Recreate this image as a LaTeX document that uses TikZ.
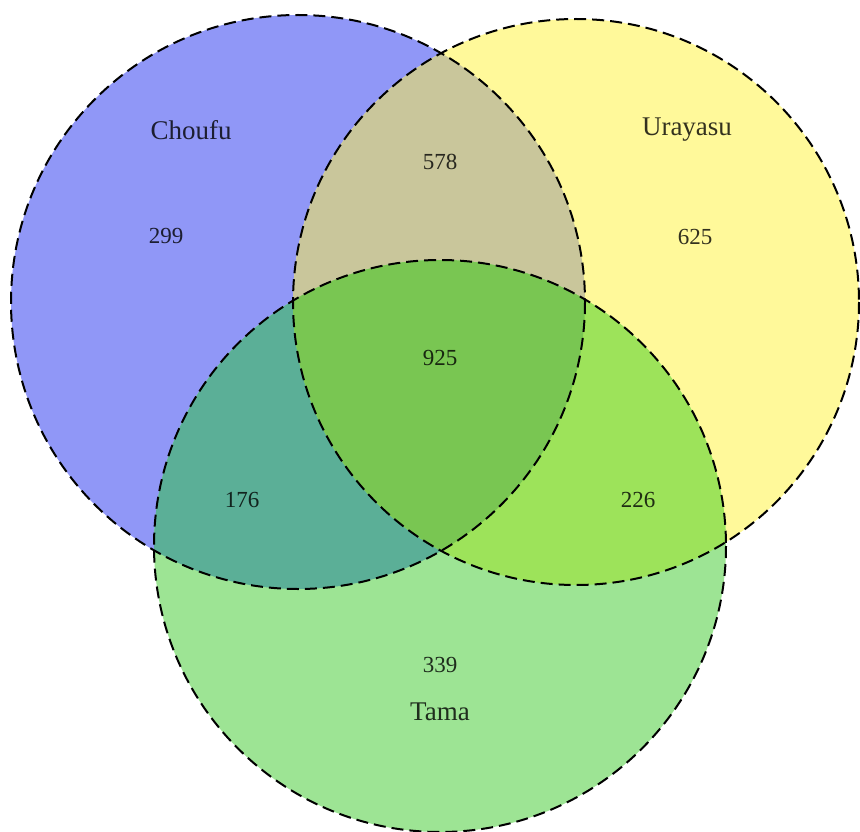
\documentclass[tikz,border=0pt]{standalone}
\usepackage{fontspec}
\setmainfont{Liberation Serif}
\definecolor{cA}{HTML}{9097F7}
\definecolor{cB}{HTML}{FFF99A}
\definecolor{cC}{HTML}{9DE494}
\definecolor{cAB}{HTML}{C9C69B}
\definecolor{cAC}{HTML}{5BAF97}
\definecolor{cBC}{HTML}{9DE35A}
\definecolor{cABC}{HTML}{79C652}
\begin{document}
\begin{tikzpicture}[x=1pt,y=-1pt,
  outline/.style={draw=black,line width=2pt,dash pattern=on 12pt off 6pt},
  lbl/.style={font=\fontsize{27}{27}\selectfont,text=black,text opacity=0.8},
  num/.style={font=\fontsize{23}{23}\selectfont,text=black,text opacity=0.8}]
\useasboundingbox (0,0) rectangle (860,832);
\def\cA{(298,302) circle (287)}
\def\cB{(576,302) circle (283)}
\def\cC{(440,546) circle (286)}
\fill[cA] \cA;
\fill[cB] \cB;
\fill[cC] \cC;
\begin{scope}\clip \cA; \fill[cAB] \cB; \end{scope}
\begin{scope}\clip \cA; \fill[cAC] \cC; \end{scope}
\begin{scope}\clip \cB; \fill[cBC] \cC; \end{scope}
\begin{scope}\clip \cA; \clip \cB; \fill[cABC] \cC; \end{scope}
\draw[outline] \cA;
\draw[outline] \cB;
\draw[outline] \cC;
\node[lbl] (choufu) at (191,130) {Choufu};
\node[lbl] (urayasu) at (687,130) {Urayasu};
\node[lbl] (tama) at (440,712) {Tama};
\node[num] (n299) at (166,236) {299};
\node[num] (n578) at (440,162) {578};
\node[num] (n625) at (695,237) {625};
\node[num] (n925) at (440,358) {925};
\node[num] (n176) at (242,500) {176};
\node[num] (n226) at (638,500) {226};
\node[num] (n339) at (440,665) {339};
\end{tikzpicture}
\end{document}
